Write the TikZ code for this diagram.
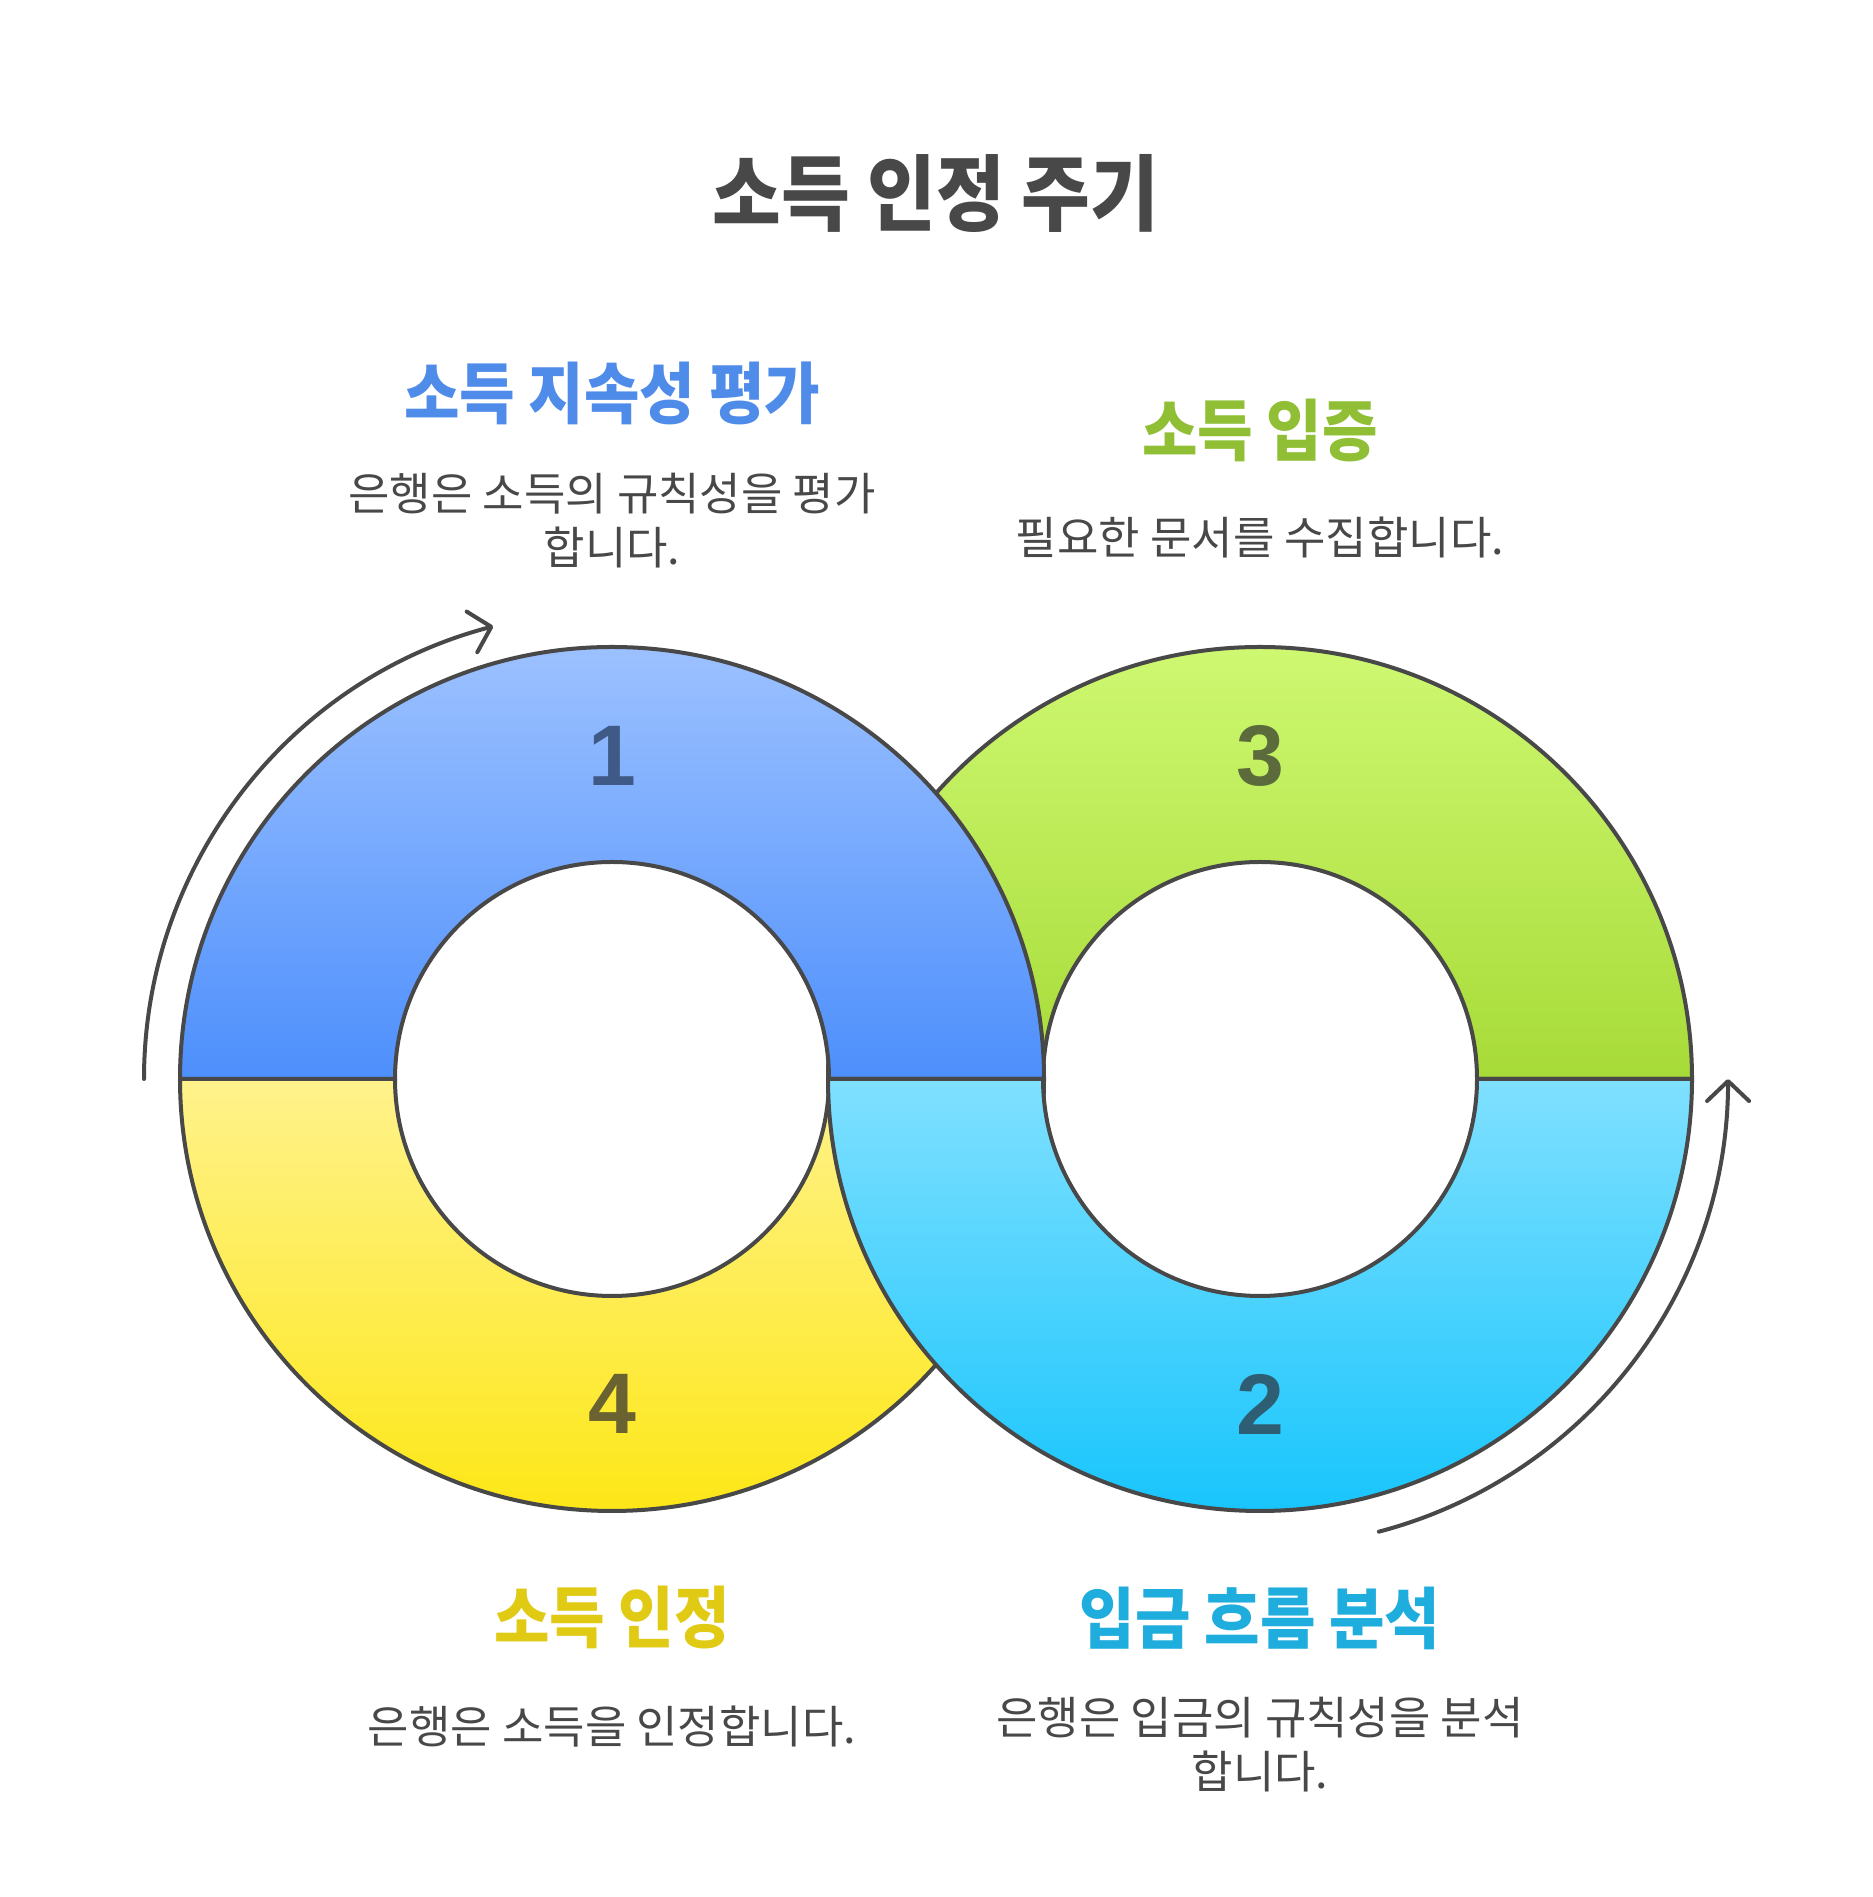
\documentclass[tikz,border=0pt]{standalone}
\usepackage{fontspec}
\newfontfamily\kr{Noto Sans CJK KR}[FakeStretch=0.9]
\newfontfamily\krd{Noto Sans CJK KR}
\newfontfamily\numfont{Liberation Sans}
\usetikzlibrary{arrows.meta}
\definecolor{ink}{HTML}{484848}
\definecolor{b1}{HTML}{9CC1FF}
\definecolor{b2}{HTML}{4D8FFC}
\definecolor{g1}{HTML}{CEF871}
\definecolor{g2}{HTML}{A7DB38}
\definecolor{y1}{HTML}{FFF28C}
\definecolor{y2}{HTML}{FDE717}
\definecolor{c1}{HTML}{80E0FF}
\definecolor{c2}{HTML}{18C5FC}
\definecolor{tb}{HTML}{4F8BE8}
\definecolor{tg}{HTML}{90BF36}
\definecolor{ty}{HTML}{E0CA14}
\definecolor{tc}{HTML}{1EADDC}
\definecolor{n1}{HTML}{3F5A87}
\definecolor{n3}{HTML}{5B6B3B}
\definecolor{n4}{HTML}{6A6230}
\definecolor{n2}{HTML}{2E5E73}
\tikzset{
  ringline/.style={draw=ink, line width=4pt, line join=round},
  flowarrow/.style={draw=ink, line width=4pt, line cap=round,
    -{Straight Barb[length=20pt, width=42pt, round]}},
  titletext/.style={font=\kr\bfseries\fontsize{83}{92}\selectfont, text=ink},
  headtext/.style={font=\kr\bfseries\fontsize{67}{75}\selectfont},
  desctext/.style={font=\krd\fontsize{45}{54}\selectfont, text=ink, align=center},
  numtext/.style={font=\numfont\bfseries\fontsize{86}{94}\selectfont}
}
\begin{document}
\begin{tikzpicture}[x=1pt,y=1pt]
\useasboundingbox (0,0) rectangle (1872,1897);
\fill[white] (0,0) rectangle (1872,1897);
\coordinate (L) at (612,818);
\coordinate (Rc) at (1260,818);
% green: top half of right ring
\path[ringline, top color=g1, bottom color=g2]
  ([shift={(432,0)}]Rc) arc[start angle=0, end angle=180, radius=432]
  -- ([shift={(-217,0)}]Rc) arc[start angle=180, end angle=0, radius=217] -- cycle;
% yellow: bottom half of left ring
\path[ringline, top color=y1, bottom color=y2]
  ([shift={(-432,0)}]L) arc[start angle=180, end angle=360, radius=432]
  -- ([shift={(217,0)}]L) arc[start angle=360, end angle=180, radius=217] -- cycle;
% blue: top half of left ring
\path[ringline, top color=b1, bottom color=b2]
  ([shift={(432,0)}]L) arc[start angle=0, end angle=180, radius=432]
  -- ([shift={(-217,0)}]L) arc[start angle=180, end angle=0, radius=217] -- cycle;
% cyan: bottom half of right ring
\path[ringline, top color=c1, bottom color=c2]
  ([shift={(-432,0)}]Rc) arc[start angle=180, end angle=360, radius=432]
  -- ([shift={(217,0)}]Rc) arc[start angle=360, end angle=180, radius=217] -- cycle;
% arrows
\coordinate (la) at ([shift={(-468,0)}]L);
\coordinate (ra) at ([shift={(118.8,-452.7)}]Rc);
\draw[flowarrow] (la) arc[start angle=180, end angle=104.7, radius=468];
\draw[flowarrow] (ra) arc[start angle=-75.3, end angle=0, radius=468];
% numbers
\node[numtext, text=n1] (num1) at (612,1141) {1};
\node[numtext, text=n3] (num3) at (1260,1141) {3};
\node[numtext, text=n4] (num4) at (612,493) {4};
\node[numtext, text=n2] (num2) at (1260,493) {2};
% texts
\node[titletext] (title) at (936,1703) {소득 인정 주기};
\node[headtext, text=tb] (h1) at (612,1504) {소득 지속성 평가};
\node[desctext] (d1) at (612,1376) {은행은 소득의 규칙성을 평가\\합니다.};
\node[headtext, text=tg] (h3) at (1260,1467) {소득 입증};
\node[desctext] (d3) at (1260,1359) {필요한 문서를 수집합니다.};
\node[headtext, text=ty] (h4) at (612,279) {소득 인정};
\node[desctext] (d4) at (612,170) {은행은 소득을 인정합니다.};
\node[headtext, text=tc] (h2) at (1260,279) {입금 흐름 분석};
\node[desctext] (d2) at (1260,152) {은행은 입금의 규칙성을 분석\\합니다.};
\end{tikzpicture}
\end{document}
